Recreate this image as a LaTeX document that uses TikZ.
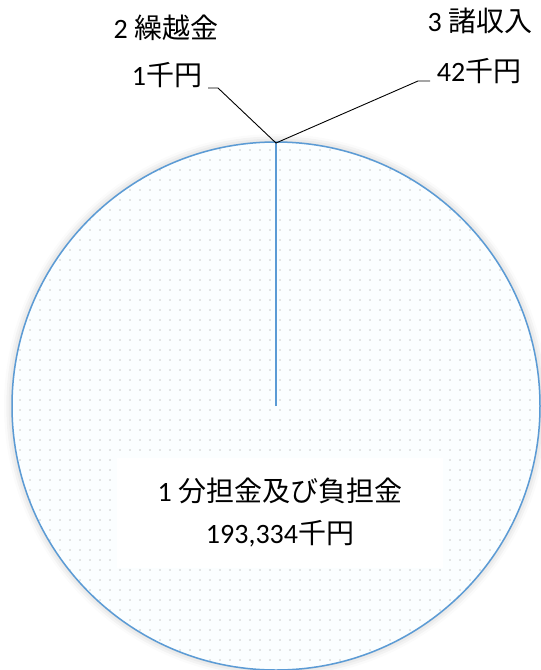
\documentclass[tikz,border=0pt]{standalone}
\usepackage{fontspec}
\setmainfont{Carlito}
\newfontfamily\jp{Noto Sans CJK JP}
\usepackage{tikz}
\usetikzlibrary{positioning, patterns.meta, shadows.blur}
\definecolor{pieblue}{RGB}{91,155,213}

\begin{document}
\begin{tikzpicture}[x=1pt, y=-1pt,
    every node/.style={font=\fontsize{28}{42}\selectfont, text=black, inner sep=0pt},
    leader/.style={draw=black, line width=0.9pt},
    pieshadow/.style={fill=white, blur shadow={shadow xshift=0pt, shadow yshift=0pt,
      shadow blur radius=8pt, shadow opacity=25}},
    piefill/.style={draw=pieblue, line width=1.5pt, preaction={fill=cyan!1.5},
      pattern={Dots[distance=10pt, radius=0.9pt]}, pattern color=gray!40},
    labelbox/.style={fill=white, align=center, minimum width=326pt, minimum height=110pt}]

        \useasboundingbox (0,0) rectangle (541,670);

        % pie
        \coordinate (centre) at (276,406);
        \path[pieshadow] (centre) circle[radius=264pt];
        \path[piefill] (centre) circle[radius=264pt];
        \coordinate (tip) at (276,143);
        \draw[pieblue, line width=2pt] (centre) -- (tip);

        % slice 1
        \node[labelbox] (share) at (280,513)
          {1 {\jp 分担金及び負担金}\\193,334{\jp 千円}};

        % slices 2 and 3
        \node (cat-2) at (166,28) {2 {\jp 繰越金}};
        \node (val-2) at (167,75) {1{\jp 千円}};
        \node (cat-3) at (480,21) {3 {\jp 諸収入}};
        \node (val-3) at (479,71) {42{\jp 千円}};

        \coordinate (end-2) at (208,88);
        \coordinate (bend-2) at (218,88);
        \coordinate (bend-3) at (418,81);
        \coordinate (end-3) at (430,81);

        \draw[leader] (end-2) -- (bend-2) -- (tip);
        \draw[leader] (tip) -- (bend-3) -- (end-3);

\end{tikzpicture}
\end{document}
